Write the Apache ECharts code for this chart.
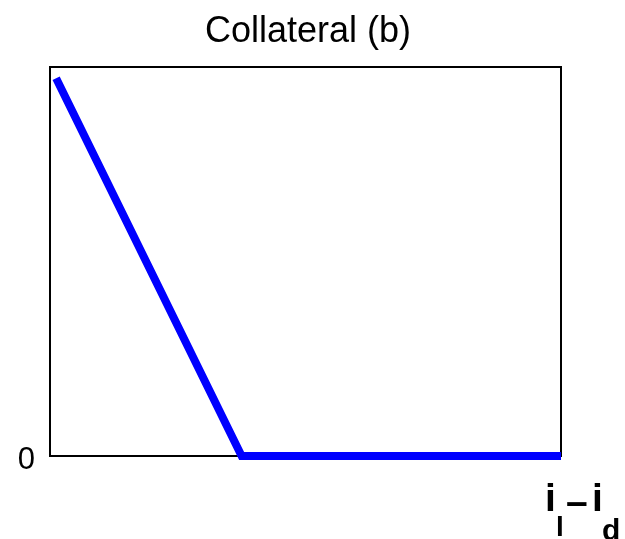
<!DOCTYPE html>
<html>
<head>
<meta charset="utf-8">
<style>
  html, body { margin: 0; padding: 0; background: #fff; }
  #chart { width: 625px; height: 539px; }
</style>
<script src="https://cdn.jsdelivr.net/npm/echarts@6/dist/echarts.min.js"></script>
</head>
<body>
<div id="chart"></div>
<script>
// Collateral as a function of the rate spread i_l - i_d
const spreadX = [0.012, 0.375, 1.0];
const collateralY = [0.971, 0, 0];
const yTickLabels = ['0'];

const chart = echarts.init(document.getElementById('chart'), null, { renderer: 'canvas' });

const FONT = '"Liberation Sans", Arial, Helvetica, sans-serif';

chart.setOption({
  animation: false,
  backgroundColor: '#ffffff',
  title: {
    text: 'Collateral (b)',
    left: 303,
    top: 9,
    textAlign: 'center',
    textStyle: { fontFamily: FONT, fontSize: 36, fontWeight: 'normal', color: '#000' }
  },
  grid: {
    left: 50, top: 67, right: 64, bottom: 83,
    show: true, borderColor: '#000', borderWidth: 2, backgroundColor: 'transparent'
  },
  xAxis: {
    type: 'value', min: 0, max: 1,
    axisLine: { show: false }, axisTick: { show: false },
    axisLabel: { show: false }, splitLine: { show: false }
  },
  yAxis: {
    type: 'value', min: 0, max: 1, interval: 1,
    axisLine: { show: false }, axisTick: { show: false }, splitLine: { show: false },
    axisLabel: {
      margin: 15,
      color: '#000',
      formatter: v => (v === 0 ? '{z|' + yTickLabels[0] + '}' : ''),
      rich: {
        z: { fontFamily: FONT, fontSize: 31, color: '#000', lineHeight: 36, padding: [9, 0, 0, 0] }
      }
    }
  },
  series: [{
    type: 'line',
    data: spreadX.map((x, i) => [x, collateralY[i]]),
    showSymbol: false,
    lineStyle: { color: '#0000ff', width: 8, cap: 'butt', join: 'miter' }
  }],
  graphic: [
    { type: 'text', left: 545, top: 481, style: { text: 'i', font: 'bold 39px ' + FONT, fill: '#000' } },
    { type: 'text', left: 556, top: 514, style: { text: 'l', font: 'bold 28px ' + FONT, fill: '#000' } },
    { type: 'text', left: 566, top: 485, style: { text: '–', font: 'bold 39px ' + FONT, fill: '#000' } },
    { type: 'text', left: 592, top: 481, style: { text: 'i', font: 'bold 39px ' + FONT, fill: '#000' } },
    { type: 'text', left: 602, top: 517, style: { text: 'd', font: 'bold 30px ' + FONT, fill: '#000' } }
  ]
});
</script>
</body>
</html>
